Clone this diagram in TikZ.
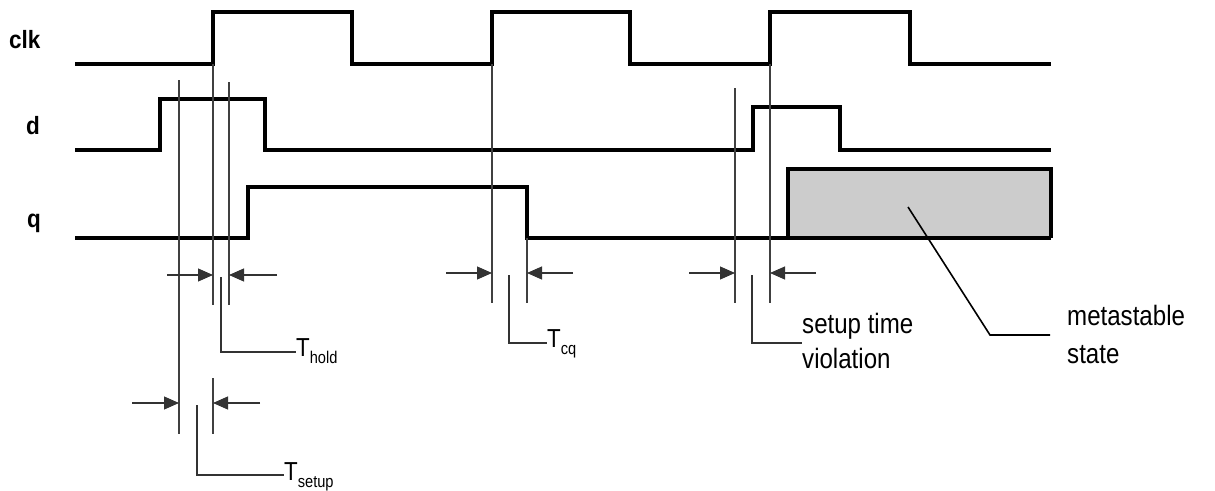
\documentclass[tikz,border=0pt]{standalone}
\usepackage{fontspec}
\setmainfont{Liberation Sans}[FakeStretch=0.88]
\newfontfamily\sigfont{Liberation Sans Bold}[FakeStretch=0.9]
\newfontfamily\txtfont{Liberation Sans}[FakeStretch=0.86]
\usetikzlibrary{arrows.meta}
\tikzset{
  signal/.style={line width=3.4pt, line cap=butt, line join=miter},
  guide/.style={line width=1.1pt, black!75},
  leader/.style={line width=1.2pt, black!80},
  dimarrow/.style={line width=1.1pt, black!80, -{Triangle[length=15pt,width=13pt]}},
  siglabel/.style={anchor=base west, inner sep=0pt, font={\sigfont\fontsize{25}{28}\selectfont}},
  txt/.style={anchor=base west, inner sep=0pt, font={\txtfont\fontsize{28}{34}\selectfont}},
  tlabel/.style={anchor=base west, inner sep=0pt, font={\txtfont\fontsize{26}{28}\selectfont}},
}
\newcommand{\tsub}[1]{\raisebox{-7pt}{\fontsize{17}{19}\selectfont #1}}
\begin{document}
\begin{tikzpicture}[x=1pt,y=-1pt]
\useasboundingbox (0,0) rectangle (1215,490);

% signal labels
\node[siglabel] (lclk) at (9,48) {clk};
\node[siglabel] (ld) at (26,134) {d};
\node[siglabel] (lq) at (27,227) {q};

% metastable box
\draw[signal, fill=black!20] (788,238) -- (788,169) -- (1051,169) -- (1051,238);

% signals
\draw[signal] (75,64) -- (213,64) -- (213,12) -- (352,12) -- (352,64) -- (492,64) -- (492,12)
  -- (630,12) -- (630,64) -- (770,64) -- (770,12) -- (910,12) -- (910,64) -- (1051,64);
\draw[signal] (75,150) -- (160,150) -- (160,99) -- (265,99) -- (265,150) -- (753,150)
  -- (753,107) -- (840,107) -- (840,150) -- (1051,150);
\draw[signal] (75,238) -- (248,238) -- (248,187) -- (527,187) -- (527,238) -- (1051,238);

% guide coordinates
\coordinate (s1t) at (179,80);   \coordinate (s1b) at (179,434);
\coordinate (c1t) at (213,64);   \coordinate (c1b) at (213,305);
\coordinate (c1u) at (213,378);  \coordinate (c1l) at (213,434);
\coordinate (h1t) at (229,82);   \coordinate (h1b) at (229,305);
\coordinate (c2t) at (492,64);   \coordinate (c2b) at (492,303);
\coordinate (q2t) at (527,238);  \coordinate (q2b) at (527,303);
\coordinate (v3t) at (735,88);   \coordinate (v3b) at (735,303);
\coordinate (c3t) at (770,64);   \coordinate (c3b) at (770,303);

\draw[guide] (s1t) -- (s1b);
\draw[guide] (c1t) -- (c1b);
\draw[guide] (c1u) -- (c1l);
\draw[guide] (h1t) -- (h1b);
\draw[guide] (c2t) -- (c2b);
\draw[guide] (q2t) -- (q2b);
\draw[guide] (v3t) -- (v3b);
\draw[guide] (c3t) -- (c3b);

% dimension arrows
\coordinate (a1) at (167,275);  \coordinate (a1e) at (213,275);
\coordinate (a2) at (277,275);  \coordinate (a2e) at (229,275);
\coordinate (a3) at (132,403);  \coordinate (a3e) at (179,403);
\coordinate (a4) at (260,403);  \coordinate (a4e) at (213,403);
\coordinate (a5) at (446,273);  \coordinate (a5e) at (492,273);
\coordinate (a6) at (573,273);  \coordinate (a6e) at (527,273);
\coordinate (a7) at (689,273);  \coordinate (a7e) at (735,273);
\coordinate (a8) at (816,273);  \coordinate (a8e) at (770,273);
\foreach \p/\q in {a1/a1e,a2/a2e,a3/a3e,a4/a4e,a5/a5e,a6/a6e,a7/a7e,a8/a8e}
  \draw[dimarrow] (\p) -- (\q);

% labels
\node[tlabel] (thold) at (296,356) {T\tsub{hold}};
\node[tlabel] (tsetup) at (284,480) {T\tsub{setup}};
\node[tlabel] (tcq) at (547,347) {T\tsub{cq}};
\node[txt] (sv1) at (802,333) {setup time};
\node[txt] (sv2) at (802,368) {violation};
\node[txt] (ms1) at (1067,325) {metastable};
\node[txt] (ms2) at (1067,363) {state};

% leaders
\draw[leader] (221,277) |- (thold.base west |- 0,352);
\draw[leader] (197,405) |- (tsetup.base west |- 0,475);
\draw[leader] (509,275) |- (tcq.base west |- 0,343);
\draw[leader] (752,275) |- (sv1.base west |- 0,343);
\coordinate (mtip) at (908,207);
\draw[leader, line width=1.6pt, black] (mtip) -- (990,335) -- (1050,335);
\end{tikzpicture}
\end{document}
